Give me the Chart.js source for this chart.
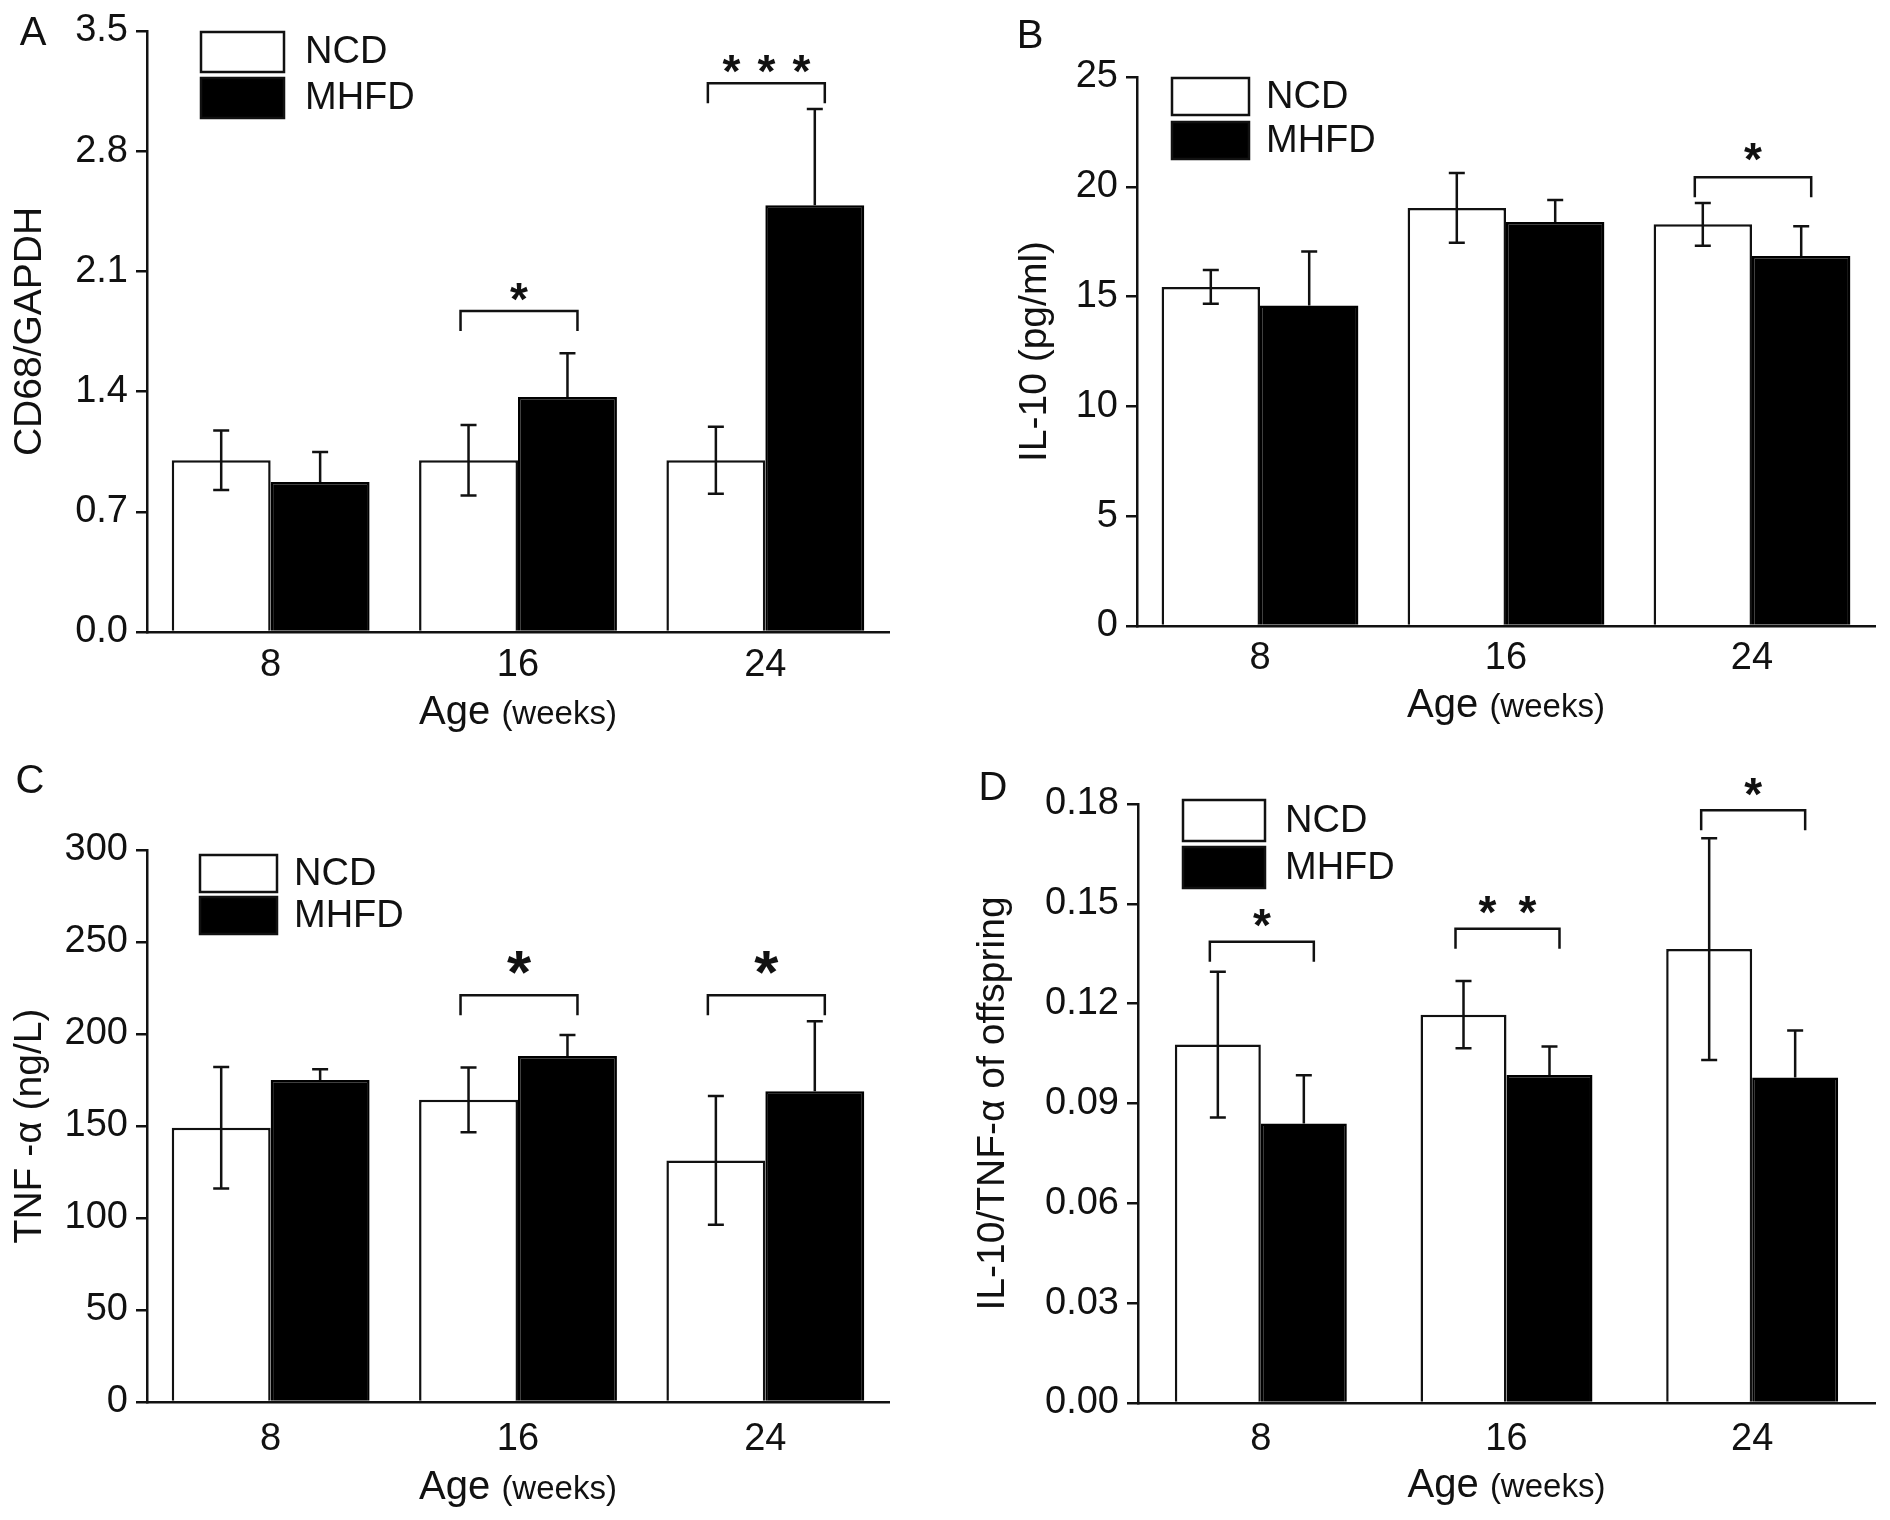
<!DOCTYPE html>
<html>
<head>
<meta charset="utf-8">
<title>CD68, IL-10 and TNF-α in offspring</title>
<script src="https://cdn.jsdelivr.net/npm/chart.js@4.4.1/dist/chart.umd.min.js"></script>
<style>
  html, body { margin: 0; padding: 0; background: #fff; }
  #wrap { position: relative; width: 1890px; height: 1520px; background: #fff; }
  .panel { position: absolute; width: 945px; height: 760px; }
  .panel canvas { display: block; }
</style>
</head>
<body>
<div id="wrap">
  <div class="panel" style="left:0;top:0"><canvas id="chartA" width="945" height="760"></canvas></div>
  <div class="panel" style="left:945px;top:0"><canvas id="chartB" width="945" height="760"></canvas></div>
  <div class="panel" style="left:0;top:760px"><canvas id="chartC" width="945" height="760"></canvas></div>
  <div class="panel" style="left:945px;top:760px"><canvas id="chartD" width="945" height="760"></canvas></div>
</div>
<script>
// Categories (age in weeks) and groups
const ages = ['8', '16', '24'];
const groupNames = ['NCD', 'MHFD'];

// A - CD68/GAPDH
const cd68Ncd = [1.00, 1.00, 1.00];
const cd68NcdErr = [0.173, 0.205, 0.195];
const cd68Mhfd = [0.873, 1.369, 2.485];
const cd68MhfdErr = [0.175, 0.255, 0.561];
const cd68Ticks = [0, 0.7, 1.4, 2.1, 2.8, 3.5];
const cd68Sig = ['', '*', '***'];
const cd68SigAt = [null, 1.87, 3.196];

// B - IL-10 (pg/ml)
const il10Ncd = [15.44, 19.04, 18.29];
const il10NcdErr = [0.77, 1.59, 0.97];
const il10Mhfd = [14.60, 18.40, 16.85];
const il10MhfdErr = [2.45, 1.00, 1.35];
const il10Ticks = [0, 5, 10, 15, 20, 25];
const il10Sig = ['', '', '*'];
const il10SigAt = [null, null, 20.43];

// C - TNF-α (ng/L)
const tnfNcd = [149.1, 164.2, 131.3];
const tnfNcdErr = [33.0, 17.6, 35.0];
const tnfMhfd = [175.0, 188.0, 168.9];
const tnfMhfdErr = [5.8, 11.4, 38.0];
const tnfTicks = [0, 50, 100, 150, 200, 250, 300];
const tnfSig = ['', '*', '*'];
const tnfSigAt = [null, 221.1, 221.1];

// D - IL-10/TNF-α ratio
const ratioNcd = [0.1077, 0.1167, 0.1364];
const ratioNcdErr = [0.0219, 0.0101, 0.0333];
const ratioMhfd = [0.0840, 0.0986, 0.0978];
const ratioMhfdErr = [0.0145, 0.0085, 0.0141];
const ratioTicks = [0, 0.03, 0.06, 0.09, 0.12, 0.15, 0.18];
const ratioSig = ['*', '**', '*'];
const ratioSigAt = [0.1386, 0.1425, 0.1781];

Chart.defaults.font.family = "'Liberation Sans', Arial, Helvetica, sans-serif";
Chart.defaults.color = '#111';
Chart.defaults.animation = false;

const ink = '#111';

// error bars: NCD both ways, MHFD only upwards
const errorBars = {
  id: 'errorBars',
  afterDatasetsDraw(chart) {
    const ctx = chart.ctx;
    const y = chart.scales.y;
    ctx.save();
    ctx.strokeStyle = ink;
    ctx.lineWidth = 2.5;
    chart.data.datasets.forEach((ds, di) => {
      chart.getDatasetMeta(di).data.forEach((bar, i) => {
        const v = ds.data[i];
        const e = ds.errors[i];
        const yTop = y.getPixelForValue(v + e);
        const yBot = y.getPixelForValue(ds.errBoth ? v - e : v);
        ctx.beginPath();
        ctx.moveTo(bar.x, yTop);
        ctx.lineTo(bar.x, yBot);
        ctx.moveTo(bar.x - 8, yTop);
        ctx.lineTo(bar.x + 8, yTop);
        if (ds.errBoth) {
          ctx.moveTo(bar.x - 8, yBot);
          ctx.lineTo(bar.x + 8, yBot);
        }
        ctx.stroke();
      });
    });
    ctx.restore();
  }
};

// significance brackets with stars
const signif = {
  id: 'signif',
  afterDatasetsDraw(chart, args, opts) {
    const ctx = chart.ctx;
    const y = chart.scales.y;
    const m0 = chart.getDatasetMeta(0).data;
    const m1 = chart.getDatasetMeta(1).data;
    ctx.save();
    ctx.strokeStyle = ink;
    ctx.fillStyle = ink;
    ctx.lineWidth = 2.5;
    opts.labels.forEach((lab, i) => {
      if (!lab) return;
      const yb = y.getPixelForValue(opts.at[i]);
      const x0 = m0[i].x - 8;
      const x1 = m1[i].x + 10;
      ctx.beginPath();
      ctx.moveTo(x0, yb + 20);
      ctx.lineTo(x0, yb);
      ctx.lineTo(x1, yb);
      ctx.lineTo(x1, yb + 20);
      ctx.stroke();
      ctx.font = 'bold ' + opts.size + "px 'Liberation Sans', Arial, sans-serif";
      ctx.textAlign = 'center';
      ctx.textBaseline = 'alphabetic';
      const n = lab.length;
      const cx = (x0 + x1) / 2;
      const base = yb - opts.lift + opts.size * 0.58;
      for (let k = 0; k < n; k++) {
        ctx.fillText('*', cx + (k - (n - 1) / 2) * opts.gap, base);
      }
    });
    ctx.restore();
  }
};

// boxed legend inside the plot, panel letter, and "Age (weeks)" axis label
const frameText = {
  id: 'frameText',
  afterDraw(chart, args, opts) {
    const ctx = chart.ctx;
    const a = chart.chartArea;
    ctx.save();
    // legend
    const lg = opts.legend;
    chart.data.datasets.forEach((ds, i) => {
      const top = lg.y + i * (lg.h + lg.gap);
      ctx.fillStyle = ds.backgroundColor;
      ctx.fillRect(lg.x, top, lg.w, lg.h);
      ctx.strokeStyle = ink;
      ctx.lineWidth = 2.5;
      ctx.strokeRect(lg.x, top, lg.w, lg.h);
      ctx.fillStyle = ink;
      ctx.font = lg.size + "px 'Liberation Sans', Arial, sans-serif";
      ctx.textAlign = 'left';
      ctx.textBaseline = 'middle';
      ctx.fillText(ds.label, lg.x + lg.w + lg.textGap, top + lg.h / 2 + 1);
    });
    // panel letter
    ctx.fillStyle = ink;
    ctx.font = "40px 'Liberation Sans', Arial, sans-serif";
    ctx.textAlign = 'center';
    ctx.textBaseline = 'middle';
    ctx.fillText(opts.letter, opts.letterX, opts.letterY);
    // x axis title, "Age" larger than "(weeks)"
    const big = "40px 'Liberation Sans', Arial, sans-serif";
    const small = "33px 'Liberation Sans', Arial, sans-serif";
    ctx.font = big;
    const w1 = ctx.measureText('Age ').width;
    ctx.font = small;
    const w2 = ctx.measureText('(weeks)').width;
    const sx = (a.left + a.right) / 2 - (w1 + w2) / 2;
    const ty = a.bottom + opts.ageDy;
    ctx.textAlign = 'left';
    ctx.textBaseline = 'alphabetic';
    ctx.font = big;
    ctx.fillText('Age ', sx, ty + 14);
    ctx.font = small;
    ctx.fillText('(weeks)', sx + w1, ty + 14);
    ctx.restore();
  }
};

function makePanel(id, p) {
  const W = 945, H = 760;
  return new Chart(document.getElementById(id), {
    type: 'bar',
    data: {
      labels: ages,
      datasets: [
        {
          label: groupNames[0], data: p.ncd, errors: p.ncdErr, errBoth: true,
          backgroundColor: '#ffffff', borderColor: ink, borderWidth: 2.5,
          barPercentage: 1.0, categoryPercentage: p.catPct
        },
        {
          label: groupNames[1], data: p.mhfd, errors: p.mhfdErr, errBoth: false,
          backgroundColor: '#000000', borderColor: '#000000', borderWidth: 2.5,
          barPercentage: 1.0, categoryPercentage: p.catPct
        }
      ]
    },
    options: {
      responsive: false,
      maintainAspectRatio: false,
      layout: { padding: { left: 0, bottom: 0, top: p.top, right: W - p.right } },
      plugins: {
        legend: { display: false },
        tooltip: { enabled: false },
        signif: { labels: p.sig, at: p.sigAt, lift: p.starLift, size: p.starSize, gap: p.starGap },
        frameText: {
          legend: p.legend, letter: p.letter, letterX: p.letterX, letterY: p.letterY, ageDy: p.ageDy
        }
      },
      scales: {
        x: {
          grid: { display: false },
          border: { display: true, color: ink, width: 2.5 },
          ticks: { font: { size: 38 }, color: ink, padding: p.tickPad },
          afterFit(s) { s.height = H - p.bottom; }
        },
        y: {
          min: p.ticks[0],
          max: p.ticks[p.ticks.length - 1],
          grid: { drawOnChartArea: false, drawTicks: true, tickLength: 11, color: ink, lineWidth: 2.5 },
          border: { display: true, color: ink, width: 2.5 },
          ticks: {
            font: { size: 38 }, color: ink, padding: 8,
            callback: (v) => Number(v).toFixed(p.decimals)
          },
          afterBuildTicks(s) { s.ticks = p.ticks.map(v => ({ value: v })); },
          afterFit(s) { s.width = p.left; },
          title: {
            display: true, text: p.yTitle, color: ink,
            font: { size: 39 }, padding: { top: p.titleX - 23.4, bottom: 0 }
          }
        }
      }
    },
    plugins: [errorBars, signif, frameText]
  });
}

makePanel('chartA', {
  ncd: cd68Ncd, ncdErr: cd68NcdErr, mhfd: cd68Mhfd, mhfdErr: cd68MhfdErr,
  ticks: cd68Ticks, decimals: 1, sig: cd68Sig, sigAt: cd68SigAt,
  yTitle: 'CD68/GAPDH', letter: 'A', letterX: 33, letterY: 34,
  left: 147, right: 889, top: 31, bottom: 632, titleX: 30, tickPad: 3, ageDy: 78, catPct: 0.8,
  starLift: 23, starSize: 46, starGap: 35,
  legend: { x: 201, y: 32, w: 83, h: 40, gap: 6, textGap: 21, size: 38 }
});

makePanel('chartB', {
  ncd: il10Ncd, ncdErr: il10NcdErr, mhfd: il10Mhfd, mhfdErr: il10MhfdErr,
  ticks: il10Ticks, decimals: 0, sig: il10Sig, sigAt: il10SigAt,
  yTitle: 'IL-10 (pg/ml)', letter: 'B', letterX: 85, letterY: 37,
  left: 192, right: 930, top: 77, bottom: 626, titleX: 90, tickPad: 2, ageDy: 77, catPct: 0.8,
  starLift: 29, starSize: 46, starGap: 35,
  legend: { x: 227, y: 78, w: 77, h: 37, gap: 7, textGap: 17, size: 38 }
});

makePanel('chartC', {
  ncd: tnfNcd, ncdErr: tnfNcdErr, mhfd: tnfMhfd, mhfdErr: tnfMhfdErr,
  ticks: tnfTicks, decimals: 0, sig: tnfSig, sigAt: tnfSigAt,
  yTitle: 'TNF -α (ng/L)', letter: 'C', letterX: 30, letterY: 22,
  left: 147, right: 889, top: 90, bottom: 642, titleX: 30, tickPad: 7, ageDy: 83, catPct: 0.8,
  starLift: 38, starSize: 62, starGap: 40,
  legend: { x: 200, y: 95, w: 77, h: 37, gap: 5, textGap: 17, size: 38 }
});

makePanel('chartD', {
  ncd: ratioNcd, ncdErr: ratioNcdErr, mhfd: ratioMhfd, mhfdErr: ratioMhfdErr,
  ticks: ratioTicks, decimals: 2, sig: ratioSig, sigAt: ratioSigAt,
  yTitle: 'IL-10/TNF-α of offspring', letter: 'D', letterX: 48, letterY: 29,
  left: 193, right: 930, top: 44, bottom: 643, titleX: 48, tickPad: 6, ageDy: 80, catPct: 0.7,
  starLift: 27, starSize: 46, starGap: 40,
  legend: { x: 238, y: 40, w: 82, h: 41, gap: 6, textGap: 20, size: 38 }
});
</script>
</body>
</html>
